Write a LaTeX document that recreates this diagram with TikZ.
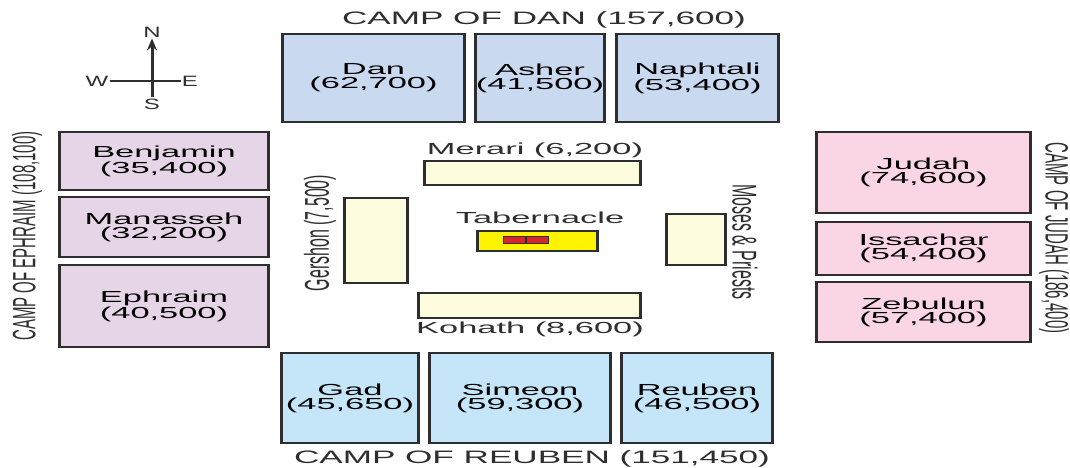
\documentclass[tikz,border=0pt]{standalone}
\usepackage{fontspec}
\setmainfont{Liberation Sans}
\usepackage{graphicx}
\usepackage{tikz}
\usetikzlibrary{positioning,arrows.meta}
\usepackage{xcolor}

\definecolor{edge}{HTML}{2E2E2E}
\definecolor{danblue}{HTML}{C9DAF0}
\definecolor{reubenblue}{HTML}{C4E6F8}
\definecolor{ephraimpink}{HTML}{E6D4E7}
\definecolor{judahpink}{HTML}{F9D5E6}
\definecolor{levite}{HTML}{FEFCDF}
\definecolor{tabyellow}{HTML}{FFF400}
\definecolor{arkred}{HTML}{D8262B}

\newcommand{\hstretch}[1]{\scalebox{2.15}[1]{#1}}
\newcommand{\hhead}[1]{\scalebox{1.95}[1]{#1}}
\newcommand{\vstretch}[1]{\scalebox{1}[2.15]{#1}}

\begin{document}
\begin{tikzpicture}[x=1pt,y=-1pt,>={Stealth[length=12pt,width=10pt]},
  tribe/.style={draw=edge,line width=1.2pt,inner sep=0pt,align=center,
    font=\fontsize{16}{14}\selectfont,
    append after command={(\tikzlastnode.north west) edge[draw=edge,line width=2.6pt] (\tikzlastnode.south west)
      (\tikzlastnode.north east) edge[draw=edge,line width=2.6pt] (\tikzlastnode.south east)}},
  camp/.style={inner sep=0pt,font=\fontsize{18}{20}\selectfont,text=edge},
  sidecamp/.style={inner sep=0pt,font=\fontsize{15}{17}\selectfont,text=edge},
  lbl/.style={inner sep=0pt,font=\fontsize{16}{18}\selectfont,text=edge},
  compass/.style={inner sep=1pt,font=\fontsize{15}{17}\selectfont,text=edge}]
\useasboundingbox (0,0) rectangle (1070,467);

% compass
\node[compass] (N) at (152,32) {\scalebox{1.6}[1]{N}};
\node[compass] (S) at (152,104) {\scalebox{1.6}[1]{S}};
\node[compass] (W) at (97,81) {\scalebox{1.6}[1]{W}};
\node[compass] (E) at (190,81) {\scalebox{1.6}[1]{E}};
\draw[->,edge,line width=3pt] (S.north) -- (N.south);
\draw[edge,line width=1.8pt] (W.east) -- (E.west);

% camp of dan
\node[camp] (dancamp) at (544,20) {\hhead{CAMP OF DAN (157,600)}};
\node[tribe,fill=danblue,minimum width=181pt,minimum height=88pt] (dan) at (373.5,78) {\hstretch{Dan}\\\hstretch{(62,700)}};
\node[tribe,fill=danblue,minimum width=126pt,minimum height=88pt] (asher) at (540,78) {\hstretch{Asher}\\\hstretch{(41,500)}};
\node[tribe,fill=danblue,minimum width=161pt,minimum height=88pt] (naphtali) at (697.5,78) {\hstretch{Naphtali}\\\hstretch{(53,400)}};

% camp of ephraim
\node[sidecamp,rotate=90] (ephraimcamp) at (27,236) {\vstretch{CAMP OF EPHRAIM (108,100)}};
\node[tribe,fill=ephraimpink,minimum width=208pt,minimum height=58pt] (benjamin) at (164,161) {\hstretch{Benjamin}\\\hstretch{(35,400)}};
\node[tribe,fill=ephraimpink,minimum width=208pt,minimum height=60pt] (manasseh) at (164,227) {\hstretch{Manasseh}\\\hstretch{(32,200)}};
\node[tribe,fill=ephraimpink,minimum width=208pt,minimum height=82pt] (ephraim) at (164,306) {\hstretch{Ephraim}\\\hstretch{(40,500)}};

% camp of judah
\node[sidecamp,rotate=-90] (judahcamp) at (1054,238) {\vstretch{CAMP OF JUDAH (186,400)}};
\node[tribe,fill=judahpink,minimum width=213pt,minimum height=81pt] (judah) at (923.5,172.5) {\hstretch{Judah}\\\hstretch{(74,600)}};
\node[tribe,fill=judahpink,minimum width=213pt,minimum height=53pt] (issachar) at (923.5,248.5) {\hstretch{Issachar}\\\hstretch{(54,400)}};
\node[tribe,fill=judahpink,minimum width=213pt,minimum height=60pt] (zebulun) at (923.5,312) {\hstretch{Zebulun}\\\hstretch{(57,400)}};

% camp of reuben
\node[tribe,fill=reubenblue,minimum width=136pt,minimum height=90pt] (gad) at (350,398) {\hstretch{Gad}\\\hstretch{(45,650)}};
\node[tribe,fill=reubenblue,minimum width=180pt,minimum height=90pt] (simeon) at (520,398) {\hstretch{Simeon}\\\hstretch{(59,300)}};
\node[tribe,fill=reubenblue,minimum width=150pt,minimum height=90pt] (reuben) at (697,398) {\hstretch{Reuben}\\\hstretch{(46,500)}};
\node[camp] (reubencamp) at (532,459) {\hhead{CAMP OF REUBEN (151,450)}};

% levites and tabernacle
\node[tribe,fill=levite,minimum width=215pt,minimum height=24pt] (merari) at (532.5,173) {};
\node[lbl] (merarilbl) at (535,150) {\hstretch{Merari (6,200)}};
\node[tribe,fill=levite,minimum width=62pt,minimum height=85pt] (gershon) at (376,240.5) {};
\node[lbl,rotate=90] (gershonlbl) at (320,233) {\vstretch{Gershon (7,500)}};
\node[tribe,fill=levite,minimum width=58pt,minimum height=51pt] (moses) at (696,239.5) {};
\node[lbl,rotate=-90] (moseslbl) at (745,242) {\vstretch{Moses \& Priests}};
\node[tribe,fill=levite,minimum width=221pt,minimum height=25pt] (kohath) at (529.5,305.5) {};
\node[lbl] (kohathlbl) at (530,329) {\hstretch{Kohath (8,600)}};
\node[tribe,fill=tabyellow,minimum width=119pt,minimum height=20pt] (tabernacle) at (537.5,241) {};
\node[lbl] (tabernaclelbl) at (540,218) {\hstretch{Tabernacle}};
\node[draw=edge,fill=arkred,line width=1pt,minimum width=22pt,minimum height=7pt,inner sep=0pt] (ark1) at (514,240) {};
\node[draw=edge,fill=arkred,line width=1pt,minimum width=22pt,minimum height=7pt,inner sep=0pt,right=0pt of ark1] (ark2) {};
\end{tikzpicture}
\end{document}
